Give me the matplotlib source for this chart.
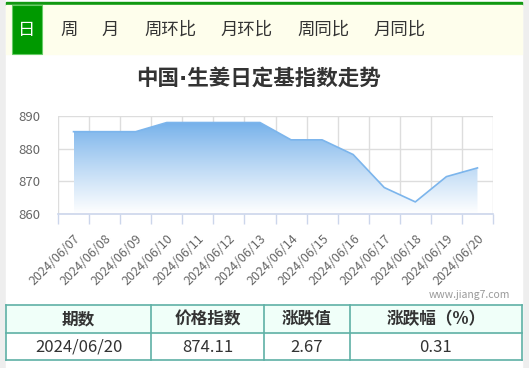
import matplotlib
matplotlib.use("Agg")
import matplotlib.pyplot as plt
import numpy as np
from matplotlib.patches import Rectangle, Polygon

plt.rcParams['font.family'] = ['Noto Sans CJK SC', 'DejaVu Sans']

# ---- data ----
dates = ['2024/06/07', '2024/06/08', '2024/06/09', '2024/06/10', '2024/06/11',
         '2024/06/12', '2024/06/13', '2024/06/14', '2024/06/15', '2024/06/16',
         '2024/06/17', '2024/06/18', '2024/06/19', '2024/06/20']
values = [885.2, 885.2, 885.2, 888.0, 888.0, 888.0, 888.0,
          882.7, 882.7, 878.2, 868.1, 863.7, 871.44, 874.11]
yticks = [860, 870, 880, 890]
tabs = ['日', '周', '月', '周环比', '月环比', '周同比', '月同比']
table_head = ['期数', '价格指数', '涨跌值', '涨跌幅（%）']
table_row = ['2024/06/20', '874.11', '2.67', '0.31']

W, H = 529, 368
fig = plt.figure(figsize=(W / 100, H / 100), dpi=100)
fig.patch.set_facecolor('#eeeeee')

# overlay axes in pixel coords (y down)
bg = fig.add_axes([0, 0, 1, 1])
bg.set_xlim(0, W)
bg.set_ylim(H, 0)
bg.axis('off')

bg.add_patch(Rectangle((6, 0), 516, H, color='white', zorder=0))
bg.add_patch(Rectangle((6, 2), 516, 3, color='#119911', zorder=1))
bg.add_patch(Rectangle((6, 5), 516, 49, color='#fefeec', zorder=1))
bg.add_patch(Rectangle((12, 5), 30, 49, facecolor='#009900', edgecolor='#66cc66', lw=0.8, zorder=2))

tab_x = [27, 69, 110, 170, 247, 323, 400]
for t, x in zip(tabs, tab_x):
    bg.text(x, 30, t, ha='center', va='center', fontsize=12.5,
            color='white' if t == '日' else '#333333', zorder=3)

bg.text(258, 78, '中国·生姜日定基指数走势', ha='center', va='center',
        fontsize=15.5, fontweight='bold', color='#333333',
        family=['DejaVu Sans', 'Noto Sans CJK SC'])

bg.text(510, 295, 'www.jiang7.com', ha='right', va='center', fontsize=7.5, color='#999999')

# table
col_edges = [6, 151, 264, 350, 522]
row_edges = [305, 333, 360]
bg.add_patch(Rectangle((6, 305), 516, 28, color='#f0fff9', zorder=1))
for x in col_edges:
    bg.plot([x, x], [305, 360], color='#5fb0a6', lw=1.2, zorder=2)
for y in row_edges:
    bg.plot([6, 522], [y, y], color='#5fb0a6', lw=1.2, zorder=2)
for i in range(4):
    cx = (col_edges[i] + col_edges[i + 1]) / 2
    bg.text(cx, 319.5, table_head[i], ha='center', va='center', fontsize=12,
            fontweight='bold', color='#333333', zorder=3)
    bg.text(cx, 347, table_row[i], ha='center', va='center', fontsize=12,
            color='#333333', zorder=3)

# chart
left, right, top, bottom = 58, 493, 116, 214
ax = fig.add_axes([left / W, 1 - bottom / H, (right - left) / W, (bottom - top) / H])
ax.set_facecolor('none')
x = np.arange(len(values))
ax.set_xlim(-0.5, len(values) - 0.5)
ax.set_ylim(860, 890)

poly = np.vstack([[x[0], 860], np.column_stack([x, values]), [x[-1], 860]])
clip = Polygon(poly, closed=True, transform=ax.transData, facecolor='none', edgecolor='none')
ax.add_patch(clip)
grad = np.linspace(0, 1, 256).reshape(-1, 1) ** 0.9
top_c = np.array([0x74, 0xb0, 0xea]) / 255
cols = top_c[None, :] * (1 - grad) + np.ones(3)[None, :] * grad
img = ax.imshow(cols.reshape(256, 1, 3), extent=[x[0], x[-1], 860, max(values)],
                aspect='auto', origin='upper', zorder=2)
img.set_clip_path(clip)
ax.plot(x, values, color='#7cb5ec', lw=1.2, zorder=3)

ax.set_yticks(yticks)
ax.set_xticks(x)
ax.set_xticklabels(dates, rotation=45, ha='right', va='top', rotation_mode='anchor')
ax.set_xticks(np.arange(-0.5, len(values)), minor=True)
ax.tick_params(axis='x', which='major', length=0, pad=13, labelsize=9, labelcolor='#666666')
ax.tick_params(axis='x', which='minor', length=7, color='#ccd6eb', width=1)
ax.tick_params(axis='y', length=0, pad=13, labelsize=9.5, labelcolor='#666666')
ax.grid(True, axis='y', color='#dddddd', lw=1, zorder=1)
ax.grid(True, axis='x', which='minor', color='#dddddd', lw=1, zorder=1)
for s in ['top', 'left', 'right']:
    ax.spines[s].set_visible(False)
ax.spines['bottom'].set_color('#ccd6eb')
ax.spines['bottom'].set_linewidth(1.2)
ax.set_axisbelow(True)

fig.savefig('out.png', dpi=100, facecolor=fig.get_facecolor())
